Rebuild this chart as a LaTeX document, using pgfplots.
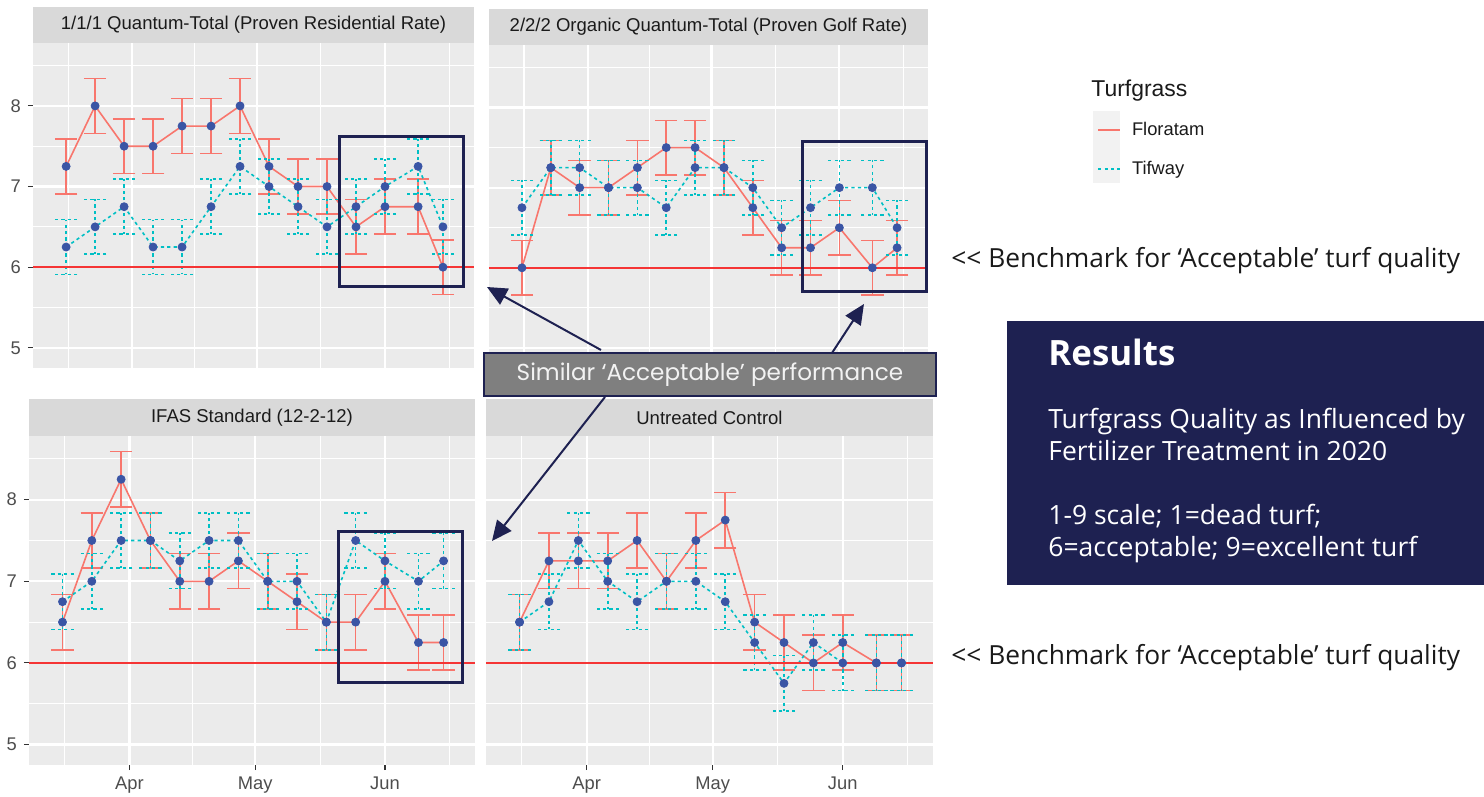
\documentclass[border=0pt]{standalone}
\usepackage{pgfplots}
\pgfplotsset{compat=1.18}
\usepackage{pgfplotstable}
\usepackage{fontspec}
\setmainfont{Liberation Sans}
\newfontfamily\rfont{Open Sans}
\newfontfamily\gfont{Poppins}
\usetikzlibrary{arrows.meta}

\definecolor{flor}{HTML}{F8766D}
\definecolor{tif}{HTML}{00BFC4}
\definecolor{ptblue}{HTML}{3A55A5}
\definecolor{ggbg}{HTML}{EBEBEB}
\definecolor{stripc}{HTML}{D9D9D9}
\definecolor{navy}{HTML}{1E2151}
\definecolor{gtext}{HTML}{4D4D4D}
\definecolor{gtick}{HTML}{333333}
\definecolor{hlinec}{HTML}{F53535}
\definecolor{keybg}{HTML}{F2F2F2}
\definecolor{boxgray}{HTML}{7F7F7F}
\definecolor{darktext}{HTML}{1A1A1A}

% x = days after 1 April 2020; F = Floratam, T = Tifway
\pgfplotstableread{
d F T
-16 7.25 6.25
-9 8.0 6.5
-2 7.5 6.75
5 7.5 6.25
12 7.75 6.25
19 7.75 6.75
26 8.0 7.25
33 7.25 7.0
40 7.0 6.75
47 7.0 6.5
54 6.5 6.75
61 6.75 7.0
69 6.75 7.25
75 6.0 6.5
}\qt
\pgfplotstableread{
d F T
-16 6.0 6.75
-9 7.25 7.25
-2 7.0 7.25
5 7.0 7.0
12 7.25 7.0
19 7.5 6.75
26 7.5 7.25
33 7.25 7.25
40 6.75 7.0
47 6.25 6.5
54 6.25 6.75
61 6.5 7.0
69 6.0 7.0
75 6.25 6.5
}\oqt
\pgfplotstableread{
d F T
-16 6.5 6.75
-9 7.5 7.0
-2 8.25 7.5
5 7.5 7.5
12 7.0 7.25
19 7.0 7.5
26 7.25 7.5
33 7.0 7.0
40 6.75 7.0
47 6.5 6.5
54 6.5 7.5
61 7.0 7.25
69 6.25 7.0
75 6.25 7.25
}\ifas
\pgfplotstableread{
d F T
-16 6.5 6.5
-9 7.25 6.75
-2 7.25 7.5
5 7.25 7.0
12 7.5 6.75
19 7.0 7.0
26 7.5 7.0
33 7.75 6.75
40 6.5 6.25
47 6.25 5.75
54 6.0 6.25
61 6.25 6.0
69 6.0 6.0
75 6.0 6.0
}\untr

\pgfplotsset{
  panel/.style={
    scale only axis,
    xmin=-24, xmax=82.5, ymin=4.75, ymax=8.78,
    axis background/.style={fill=ggbg},
    axis line style={draw=none},
    xtick={0,30,61}, xticklabels={Apr,May,Jun},
    minor xtick={-15.5,15,45.5,76.5},
    ytick={5,6,7,8}, yticklabels={5,6,7,8},
    minor ytick={5.5,6.5,7.5,8.5},
    grid=both,
    major grid style={white, line width=1.1bp},
    minor grid style={white, line width=0.55bp},
    tick align=outside, tick pos=left,
    major tick length=2.6bp, minor tick length=0pt,
    major tick style={gtick, line width=0.55bp},
    minor tick style={draw=none},
    ticklabel style={font=\fontsize{9.2}{11}\selectfont, text=gtext},
    clip=false,
  },
}

\newcommand{\panelplots}[1]{%
  \addplot[flor, line width=0.8bp, forget plot,
    error bars/.cd, y dir=both, y fixed=0.34,
    error bar style={flor, line width=0.8bp, solid},
    error mark options={flor, line width=0.8bp, mark size=5.6bp, rotate=90, solid}]
    table[x=d, y=F] {#1};
  \addplot[tif, line width=0.8bp, dash pattern=on 1.6bp off 1.6bp, forget plot,
    error bars/.cd, y dir=both, y fixed=0.34,
    error bar style={tif, line width=0.8bp, dash pattern=on 1.6bp off 1.6bp},
    error mark options={tif, line width=0.8bp, mark size=5.6bp, rotate=90, dash pattern=on 1.6bp off 1.6bp}]
    table[x=d, y=T] {#1};
  \addplot[hlinec, line width=1bp, forget plot] coordinates {(-24,6) (82.5,6)};
  \addplot[only marks, mark=*, mark size=2bp, ptblue, forget plot] table[x=d, y=F] {#1};
  \addplot[only marks, mark=*, mark size=2bp, ptblue, forget plot] table[x=d, y=T] {#1};
}

\begin{document}
\begin{tikzpicture}
\path[use as bounding box] (0,0) rectangle (742bp,-398.5bp);
\begin{scope}[x=0.5bp,y=-0.5bp]
\coordinate (pTL) at (33,368);
\coordinate (pTR) at (489,368);
\coordinate (pBL) at (29,765);
\coordinate (pBR) at (486,765);
\fill[keybg] (1093,111) rectangle (1120,183);
\end{scope}

% top left
\begin{axis}[panel, name=tl, at={(pTL)}, anchor=south west,
  width=220.5bp, height=162.5bp, xticklabels={}, major x tick style={draw=none}]
\panelplots{\qt}
\end{axis}
\fill[stripc] (tl.north west) rectangle ([yshift=18bp]tl.north east);
\node[font=\fontsize{9.3}{11}\selectfont, text=darktext] at ([yshift=9bp]tl.north) {1/1/1 Quantum-Total (Proven Residential Rate)};

% top right
\begin{axis}[panel, name=tr, at={(pTR)}, anchor=south west,
  width=219.5bp, height=161.5bp, xticklabels={}, yticklabels={},
  major tick style={draw=none},
  legend image code/.code={\draw[#1] (0bp,0bp) -- (11bp,0bp);},
  legend style={at={(1.385,0.676)}, anchor=west, draw=none, fill=none,
    inner sep=0pt, row sep=7.5bp, column sep=3.5bp,
    font=\fontsize{9.2}{11}\selectfont, text=darktext},
  legend cell align=left]
\addlegendimage{flor, line width=0.8bp}
\addlegendentry{Floratam}
\addlegendimage{tif, line width=0.8bp, dash pattern=on 1.6bp off 1.6bp}
\addlegendentry{Tifway}
\panelplots{\oqt}
\end{axis}
\fill[stripc] (tr.north west) rectangle ([yshift=18bp]tr.north east);
\node[font=\fontsize{9.3}{11}\selectfont, text=darktext] at ([yshift=9bp]tr.north) {2/2/2 Organic Quantum-Total (Proven Golf Rate)};

% bottom left
\begin{axis}[panel, name=bl, at={(pBL)}, anchor=south west,
  width=223bp, height=164.5bp]
\panelplots{\ifas}
\end{axis}
\fill[stripc] (bl.north west) rectangle ([yshift=18.5bp]bl.north east);
\node[font=\fontsize{9.3}{11}\selectfont, text=darktext] at ([yshift=9.25bp]bl.north) {IFAS Standard (12-2-12)};

% bottom right
\begin{axis}[panel, name=br, at={(pBR)}, anchor=south west,
  width=223.5bp, height=164.5bp, yticklabels={}, major y tick style={draw=none}]
\panelplots{\untr}
\end{axis}
\fill[stripc] (br.north west) rectangle ([yshift=18.5bp]br.north east);
\node[font=\fontsize{9.3}{11}\selectfont, text=darktext] at ([yshift=9.25bp]br.north) {Untreated Control};

% annotations
\begin{scope}[x=0.5bp,y=-0.5bp]
\node[anchor=west, font=\fontsize{11.5}{13}\selectfont, text=darktext, inner sep=0pt] at (1091,91) {Turfgrass};

\draw[navy, line width=1.5bp] (340,137) rectangle (464,287);
\draw[navy, line width=1.5bp] (803,142) rectangle (927,292);
\draw[navy, line width=1.5bp] (339,532) rectangle (463,683);

\draw[navy, line width=1bp, -{Triangle[length=10bp, width=9bp]}] (601,350) -- (487,287);
\draw[navy, line width=1bp, -{Triangle[length=10bp, width=9bp]}] (832,353) -- (864,304);
\draw[navy, line width=1bp, -{Triangle[length=10bp, width=9bp]}] (605,397) -- (492,541);

\draw[navy, fill=boxgray, line width=1.25bp] (484,353) rectangle (936,396);
\node[font=\gfont\fontsize{11.6}{13}\selectfont, text=keybg] at (710,374.5) {Similar ‘Acceptable’ performance};

\node[anchor=base west, inner sep=0pt, font=\rfont\fontsize{13.2}{15}\selectfont, text=darktext] at (951,268) {<{}< Benchmark for ‘Acceptable’ turf quality};
\node[anchor=base west, inner sep=0pt, font=\rfont\fontsize{13.2}{15}\selectfont, text=darktext] at (951,665) {<{}< Benchmark for ‘Acceptable’ turf quality};

\fill[navy] (1007,321) rectangle (1484,585);
\node[anchor=base west, inner sep=0pt, font=\rfont\bfseries\fontsize{17.5}{20}\selectfont, text=white] at (1048,366) {Results};
\node[anchor=base west, inner sep=0pt, font=\rfont\fontsize{13.3}{15}\selectfont, text=white] at (1048,429) {Turfgrass Quality as Influenced by};
\node[anchor=base west, inner sep=0pt, font=\rfont\fontsize{13.3}{15}\selectfont, text=white] at (1048,461) {Fertilizer Treatment in 2020};
\node[anchor=base west, inner sep=0pt, font=\rfont\fontsize{13.3}{15}\selectfont, text=white] at (1048,525) {1-9 scale; 1=dead turf;};
\node[anchor=base west, inner sep=0pt, font=\rfont\fontsize{13.3}{15}\selectfont, text=white] at (1048,557) {6=acceptable; 9=excellent turf};
\end{scope}
\end{tikzpicture}
\end{document}
